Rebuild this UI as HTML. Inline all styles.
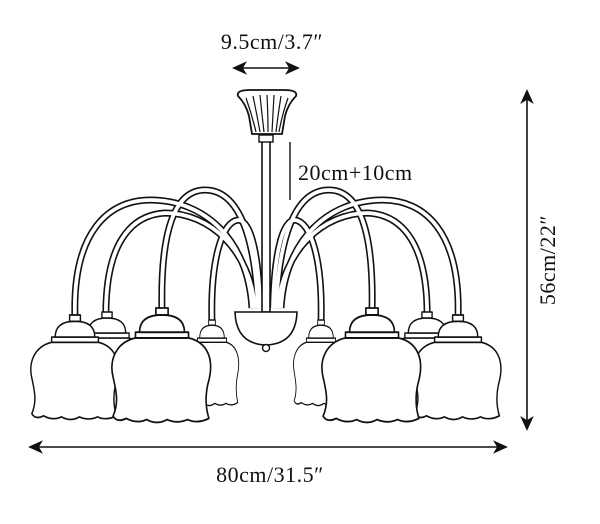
<!DOCTYPE html>
<html><head><style>
body{margin:0;background:#fff;width:600px;height:524px;overflow:hidden}
svg{position:absolute;left:0;top:0}
text{font-family:"Liberation Serif",serif;fill:#111}
</style></head><body>
<svg width="600" height="524" viewBox="0 0 600 524">
<defs>
<g id="sh" stroke="#111" stroke-width="1.6" fill="#fff" stroke-linejoin="round">
<path d="M-26,26 C-45,30 -52,45 -48,60 C-45,72 -42,82 -48,94 Q-44,100 -35,96 Q-25,101 -15,97 Q-5,102 5,97 Q15,101 25,97 Q35,101 46,96 Q41,82 45,66 C52,45 45,30 26,26 Z"/>
<rect x="-26" y="21" width="52" height="5"/>
<path d="M-22,21 Q-22,6 0,6 Q22,6 22,21 Z"/>
<rect x="-6" y="0" width="12" height="6"/>
</g>
</defs>
<g fill="none" stroke="#111" stroke-width="7">
<path d="M75,318 C72,230 110,200 150,200 C205,200 248,240 252,308"/>
<path d="M106,322 C104,245 130,215 165,213 C210,213 250,250 255,308"/>
<path d="M162,312 C160,230 175,190 205,190 C240,190 255,240 258,308"/>
<path d="M212,324 C210,260 222,222 238,220 C252,220 259,260 260,308"/>
<path d="M458,318 C461,230 423,200 383,200 C328,200 285,240 281,308"/>
<path d="M427,322 C429,245 403,215 368,213 C323,213 283,250 278,308"/>
<path d="M372,312 C374,230 359,190 329,190 C294,190 279,240 276,308"/>
<path d="M321,324 C323,260 311,222 295,220 C281,220 274,260 273,308"/>
</g>
<g fill="none" stroke="#fff" stroke-width="3.8">
<path d="M75,318 C72,230 110,200 150,200 C205,200 248,240 252,308"/>
<path d="M106,322 C104,245 130,215 165,213 C210,213 250,250 255,308"/>
<path d="M162,312 C160,230 175,190 205,190 C240,190 255,240 258,308"/>
<path d="M212,324 C210,260 222,222 238,220 C252,220 259,260 260,308"/>
<path d="M458,318 C461,230 423,200 383,200 C328,200 285,240 281,308"/>
<path d="M427,322 C429,245 403,215 368,213 C323,213 283,250 278,308"/>
<path d="M372,312 C374,230 359,190 329,190 C294,190 279,240 276,308"/>
<path d="M321,324 C323,260 311,222 295,220 C281,220 274,260 273,308"/>
</g>
<rect x="262" y="140" width="8" height="172" fill="#fff" stroke="#111" stroke-width="1.6"/>
<rect x="259" y="135" width="14" height="7" fill="#fff" stroke="#111" stroke-width="1.4"/>
<path d="M238,96 Q236,90 250,90 L284,90 Q298,90 296,96 Q288,104 285,116 Q283,128 282,134 L252,134 Q251,128 249,116 Q246,104 238,96 Z" fill="#fff" stroke="#111" stroke-width="1.8"/>
<g stroke="#111" stroke-width="1.2" fill="none">
<path d="M246,98 Q252,115 256,132"/><path d="M253,96 Q257,115 260,132"/><path d="M260,95 Q262,115 264,132"/><path d="M267,95 Q268,115 268,132"/><path d="M274,95 Q273,115 272,132"/><path d="M281,96 Q278,115 276,132"/><path d="M288,98 Q282,115 279,132"/>
</g>
<line x1="290" y1="142" x2="290" y2="200" stroke="#111" stroke-width="1.4"/>
<path d="M235,312 Q236,344 266,345 Q296,344 297,312 Z" fill="#fff" stroke="#111" stroke-width="1.6"/>
<circle cx="266" cy="348" r="3.5" fill="#fff" stroke="#111" stroke-width="1.4"/>
<use href="#sh" transform="translate(107,312) scale(0.85,1)"/>
<use href="#sh" transform="translate(427,312) scale(0.85,1)"/>
<use href="#sh" transform="translate(75,315) scale(0.9,1.05)"/>
<use href="#sh" transform="translate(458,315) scale(0.9,1.05)"/>
<use href="#sh" transform="translate(212,320) scale(0.56,0.86)"/>
<use href="#sh" transform="translate(321,320) scale(0.56,0.86)"/>
<use href="#sh" transform="translate(162,308) scale(1.02,1.15)"/>
<use href="#sh" transform="translate(372,308) scale(1.02,1.15)"/>
<g stroke="#111" stroke-width="1.6" fill="#111">
<line x1="238" y1="68" x2="294" y2="68"/>
<path d="M234,68 L245,63 L242,68 L245,73 Z"/><path d="M298,68 L287,63 L290,68 L287,73 Z"/>
<line x1="34" y1="447" x2="502" y2="447"/>
<path d="M30,447 L41,442 L38,447 L41,452 Z"/><path d="M506,447 L495,442 L498,447 L495,452 Z"/>
<line x1="527" y1="96" x2="527" y2="424"/>
<path d="M527,91 L522,102 L527,99 L532,102 Z"/><path d="M527,429 L522,418 L527,421 L532,418 Z"/>
</g>
<text x="272" y="49" font-size="22" letter-spacing="0.5" text-anchor="middle">9.5cm/3.7″</text>
<text x="298" y="180" font-size="22" letter-spacing="0.5">20cm+10cm</text>
<text x="270" y="482" font-size="22" letter-spacing="0.5" text-anchor="middle">80cm/31.5″</text>
<text x="0" y="0" font-size="22" letter-spacing="0.5" text-anchor="middle" transform="translate(555,260) rotate(-90)">56cm/22″</text>
</svg>
</body></html>
